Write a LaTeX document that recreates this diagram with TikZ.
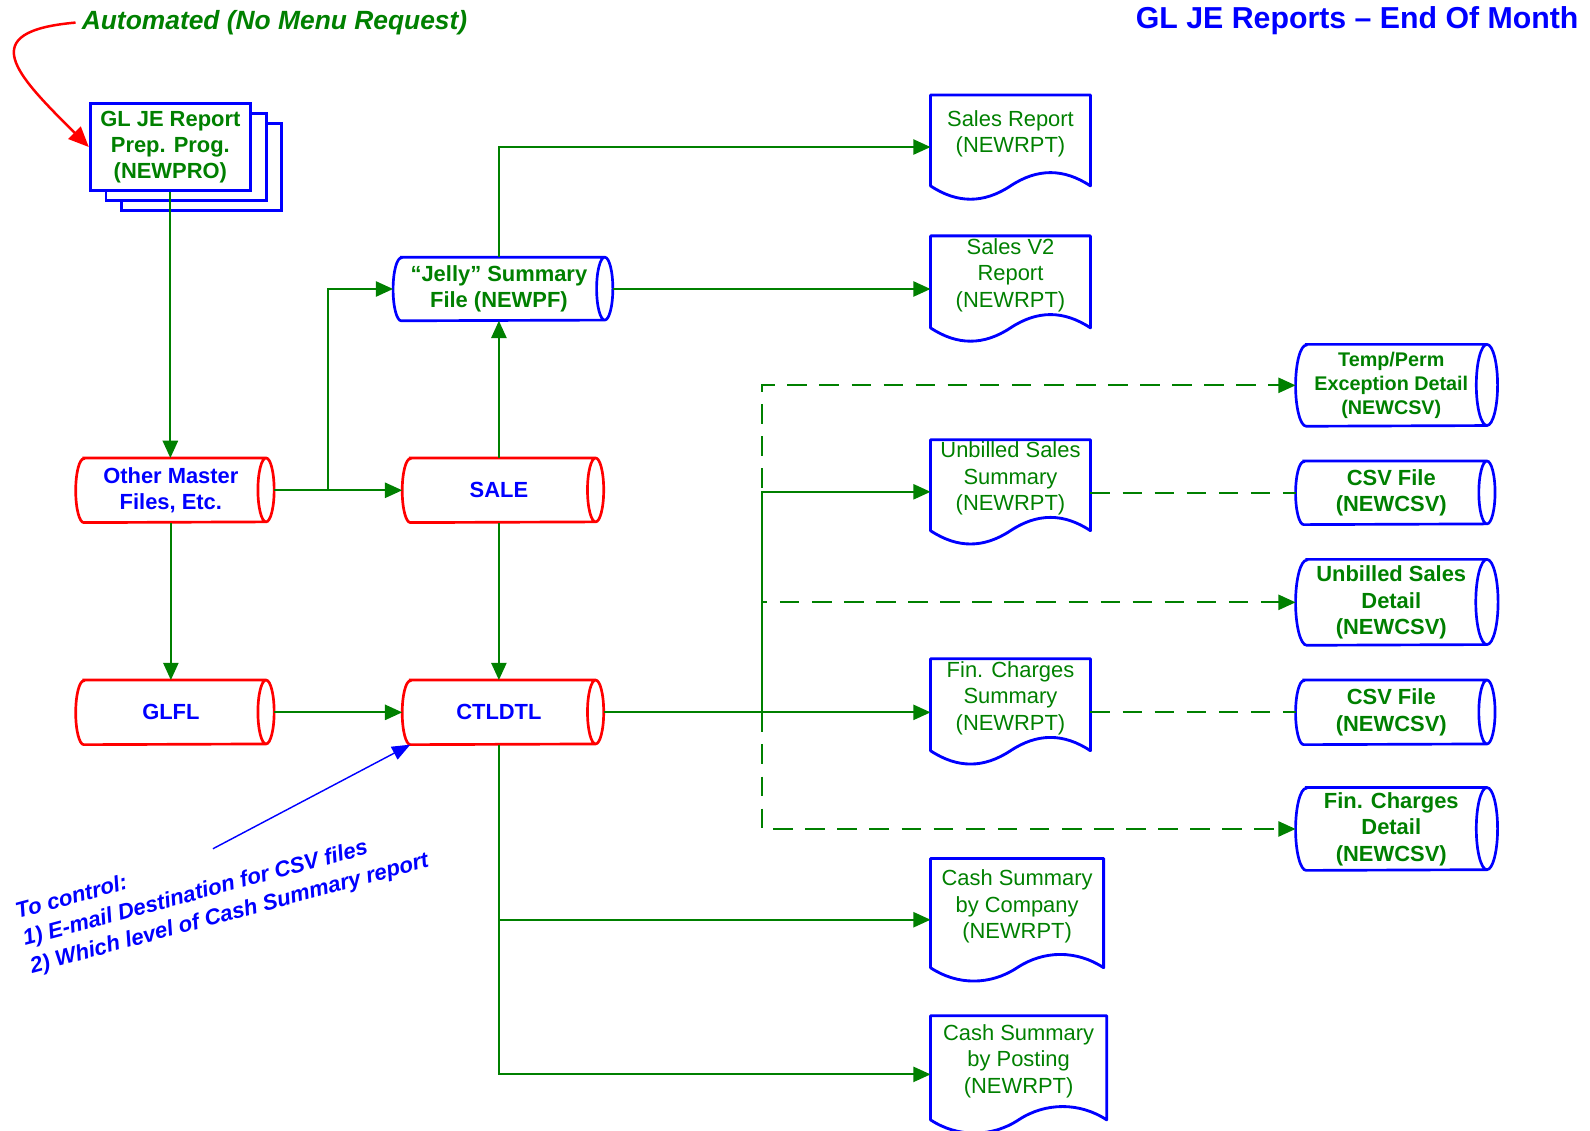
\documentclass[tikz,border=0pt]{standalone}
\usepackage{fontspec}
\setmainfont{Liberation Sans}
\usetikzlibrary{arrows.meta,shadows}
\definecolor{flowgreen}{RGB}{0,128,0}

\tikzset{
  flow/.style={draw=flowgreen, line width=1.1pt},
  arr/.style={-{Triangle[length=3.4mm,width=3mm]}},
  dflow/.style={flow, dash pattern=on 11pt off 7pt},
  txt/.style={font=\fontsize{12.3}{14.8}\selectfont, align=center, inner sep=1pt},
  store/.style={txt, font=\fontsize{12.3}{14.8}\selectfont\bfseries, text=blue,
    minimum width=3.74cm, minimum height=1.26cm},
  csvfile/.style={txt, font=\fontsize{12.3}{14.8}\selectfont\bfseries, text=flowgreen,
    minimum width=3.76cm},
  report/.style={txt, text=flowgreen, minimum width=3.14cm},
  prog/.style={txt, font=\fontsize{12.3}{14.8}\selectfont\bfseries, text=flowgreen,
    draw=blue, fill=white, line width=1.6pt, minimum width=3.16cm, minimum height=1.72cm,
    copy shadow={shadow xshift=0.62cm, shadow yshift=-0.4cm, draw=blue, fill=white, line width=1.6pt},
    copy shadow={shadow xshift=0.31cm, shadow yshift=-0.2cm, draw=blue, fill=white, line width=1.6pt}},
  redshape/.style={draw=red, line width=1.5pt},
  blueshape/.style={draw=blue, line width=1.5pt},
  docshape/.style={draw=blue, line width=1.6pt, line join=round}
}

\begin{document}
\begin{tikzpicture}
  \useasboundingbox (0,0) rectangle (31.36,22.3);

  % headings
  \node[anchor=base east, inner sep=0, text=blue, font=\fontsize{17}{20}\selectfont\bfseries] (title) at (31.14,21.74) {GL JE Reports -- End Of Month};
  \node[anchor=base west, text=flowgreen, font=\fontsize{14.8}{18}\selectfont\bfseries\itshape] (auto) at (1.49,21.72) {Automated (No Menu Request)};

  % programs and files
  \node[prog] (prog) at (3.36,19.4) {GL JE Report\\Prep. Prog.\\(NEWPRO)};
  \node[store] (other) at (3.37,12.63) {Other Master\\Files, Etc.};
  \node[store, minimum width=3.8cm] (sale) at (9.84,12.63) {SALE};
  \node[store] (glfl) at (3.37,8.25) {GLFL};
  \node[store, minimum width=3.8cm] (ctldtl) at (9.84,8.25) {CTLDTL};
  \node[csvfile, minimum width=4.16cm, minimum height=1.24cm] (jelly) at (9.84,16.6) {“Jelly” Summary\\File (NEWPF)};

  % reports
  \node[report, minimum height=1.52cm] (salesrpt) at (19.93,19.66) {Sales Report\\(NEWRPT)};
  \node[report, minimum height=1.54cm] (salesv2) at (19.93,16.87) {Sales V2\\Report\\(NEWRPT)};
  \node[report, minimum height=1.52cm] (unbsum) at (19.93,12.86) {Unbilled Sales\\Summary\\(NEWRPT)};
  \node[report, minimum height=1.54cm] (finsum) at (19.93,8.53) {Fin. Charges\\Summary\\(NEWRPT)};
  \node[report, minimum width=3.4cm, minimum height=1.88cm] (cashco) at (20.06,4.42) {Cash Summary\\by Company\\(NEWRPT)};
  \node[report, minimum width=3.46cm, minimum height=1.78cm] (cashpo) at (20.09,1.37) {Cash Summary\\by Posting\\(NEWRPT)};

  % csv files
  \node[csvfile, minimum height=1.6cm, font=\fontsize{11.1}{13.7}\selectfont\bfseries] (tempperm) at (27.44,14.7) {Temp/Perm\\Exception Detail\\(NEWCSV)};
  \node[csvfile, minimum height=1.24cm] (csv1) at (27.44,12.58) {CSV File\\(NEWCSV)};
  \node[csvfile, minimum height=1.68cm] (unbdet) at (27.44,10.42) {Unbilled Sales\\Detail\\(NEWCSV)};
  \node[csvfile, minimum height=1.26cm] (csv2) at (27.44,8.25) {CSV File\\(NEWCSV)};
  \node[csvfile, minimum height=1.62cm] (findet) at (27.44,5.95) {Fin. Charges\\Detail\\(NEWCSV)};

  % outlines
  \foreach \nm/\rx/\ry in {other/0.16/0.63, sale/0.16/0.63, glfl/0.16/0.63, ctldtl/0.16/0.63}
    \draw[redshape] ([xshift=\rx cm]\nm.north west) -- (\nm.north east)
      arc[start angle=90, end angle=-90, x radius=\rx, y radius=\ry]
      -- ([xshift=\rx cm]\nm.south west)
      arc[start angle=270, end angle=90, x radius=\rx, y radius=\ry] -- cycle
      (\nm.north east) arc[start angle=90, end angle=270, x radius=\rx, y radius=\ry];
  \foreach \nm/\rx/\ry in {jelly/0.16/0.62, tempperm/0.21/0.8, csv1/0.16/0.62, unbdet/0.22/0.84, csv2/0.16/0.63, findet/0.21/0.81}
    \draw[blueshape] ([xshift=\rx cm]\nm.north west) -- (\nm.north east)
      arc[start angle=90, end angle=-90, x radius=\rx, y radius=\ry]
      -- ([xshift=\rx cm]\nm.south west)
      arc[start angle=270, end angle=90, x radius=\rx, y radius=\ry] -- cycle
      (\nm.north east) arc[start angle=90, end angle=270, x radius=\rx, y radius=\ry];
  \foreach \nm in {salesrpt, salesv2, unbsum, finsum, cashco, cashpo}
    \draw[docshape] ([yshift=-2.6mm]\nm.south west)
      .. controls +(0.53,-0.35) and ([xshift=-5.3mm,yshift=-6.1mm]\nm.south) .. ([yshift=-2.6mm]\nm.south)
      .. controls +(0.53,0.35) and ([xshift=-5.3mm,yshift=0.9mm]\nm.south east) .. ([yshift=-2.6mm]\nm.south east)
      -- (\nm.north east) -- (\nm.north west) -- cycle;

  % connectors
  \draw[red, line width=1.4pt, -{Triangle[length=4mm,width=3.4mm]}] (auto.west) to[out=185, in=135, looseness=2.1] (prog.west);
  \draw[flow, arr] (prog.south) -- (prog.south |- other.north);
  \draw[flow, arr] ([xshift=1.6mm]other.east) -- (sale.west);
  \coordinate (split) at (6.46,12.63);
  \draw[flow, arr] (split) |- (jelly.west);
  \draw[flow, arr] (other.south) -- (glfl.north);
  \draw[flow, arr] (sale.north) -- (jelly.south);
  \draw[flow, arr] (sale.south) -- (ctldtl.north);
  \draw[flow, arr] ([xshift=1.6mm]glfl.east) -- (ctldtl.west);
  \draw[flow, arr] (jelly.north) |- ([yshift=-2.6mm]salesrpt.west);
  \draw[flow, arr] ([xshift=1.6mm]jelly.east) -- (jelly.east -| salesv2.west);
  \draw[flow, arr] ([xshift=1.6mm]ctldtl.east) -- (ctldtl.east -| finsum.west);
  \coordinate (tap) at (15.02,8.25);
  \draw[flow, arr] (tap) |- ([yshift=-2.6mm]unbsum.west);
  \draw[dflow, arr] (tap) |- (tempperm.west);
  \draw[dflow, arr] (tap) |- (unbdet.west);
  \draw[dflow, arr] (tap) |- (findet.west);
  \draw[dflow] (csv1.west -| unbsum.east) -- (csv1.west);
  \draw[dflow] (csv2.west -| finsum.east) -- (csv2.west);
  \draw[flow, arr] (ctldtl.south) |- ([yshift=-2.6mm]cashco.west);
  \draw[flow, arr] (ctldtl.south) |- ([yshift=-2.6mm]cashpo.west);

  % note on CTLDTL
  \node[rotate=15, anchor=west, inner sep=0, align=left, text=blue, font=\fontsize{12.4}{15.9}\selectfont\bfseries\itshape] (note) at (0.46,3.75) {To control:\\1) E-mail Destination for CSV files\\2) Which level of Cash Summary report};
  \coordinate (hint) at (4.2,5.56);
  \draw[blue, line width=0.8pt, -{Triangle[length=3.6mm,width=2.8mm]}] (hint) -- ([xshift=1.6mm]ctldtl.south west);
\end{tikzpicture}
\end{document}
